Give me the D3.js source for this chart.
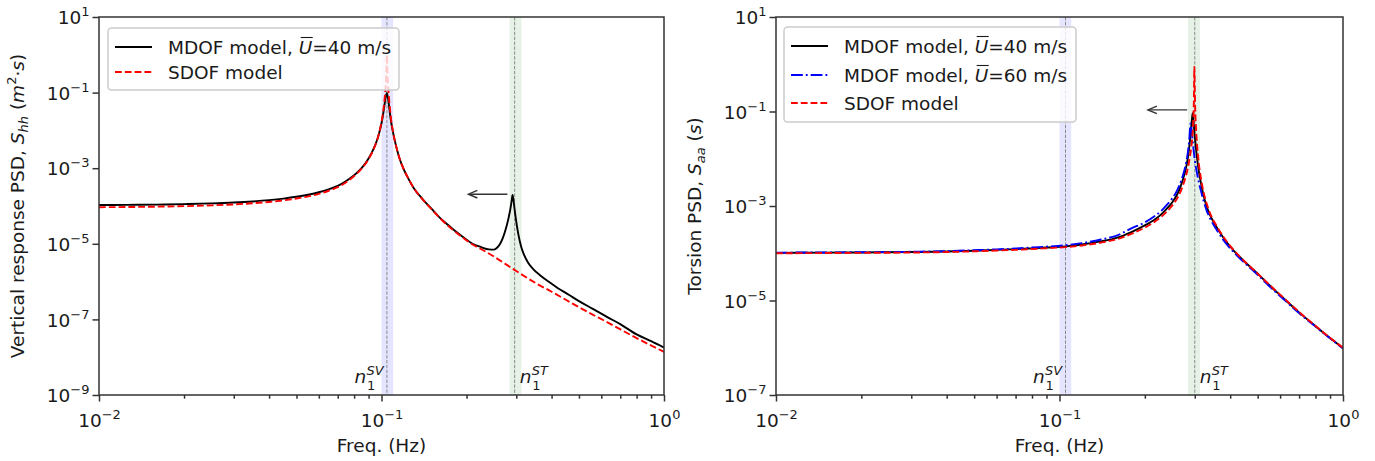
<!DOCTYPE html>
<html><head><meta charset="utf-8">
<script src="https://cdn.jsdelivr.net/npm/d3@7"></script>
<style>
body{margin:0;background:#fff}
svg{display:block}
text{font-family:"DejaVu Sans",sans-serif;fill:#1a1a1a}
</style>
</head><body>
<svg id="c" width="1375" height="461"></svg>
<script>
// ---------------- DATA ----------------
// Left panel: vertical response PSD
const vFreqMDOF40 = [0.01,0.0125,0.016,0.02,0.025,0.03,0.035,0.04,0.045,0.05,0.055,0.06,0.065,0.07,0.075,0.08,0.085,0.09,0.094,0.097,0.099,0.101,0.1025,0.1035,0.1045,0.1055,0.1065,0.108,0.11,0.113,0.116,0.12,0.125,0.13,0.14,0.15,0.16,0.17,0.18,0.195,0.21,0.225,0.24,0.25,0.257,0.263,0.268,0.273,0.278,0.282,0.286,0.289,0.291,0.293,0.296,0.3,0.305,0.312,0.32,0.33,0.345,0.365,0.39,0.42,0.46,0.5,0.56,0.63,0.7,0.8,0.9,1.0];
const vPsdMDOF40  = [1.06e-4,1.07e-4,1.09e-4,1.12e-4,1.17e-4,1.235e-4,1.32e-4,1.43e-4,1.57e-4,1.75e-4,1.99e-4,2.31e-4,2.77e-4,3.42e-4,4.6e-4,6.5e-4,1.0e-3,1.8e-3,3.4e-3,6.3e-3,0.011,0.023,0.048,0.078,0.097,0.070,0.040,0.018,8.5e-3,3.5e-3,1.75e-3,9.2e-4,5.0e-4,3.0e-4,1.5e-4,8.6e-5,5.1e-5,3.4e-5,2.35e-5,1.5e-5,1.0e-5,8.2e-6,7.1e-6,7.0e-6,8.0e-6,1.0e-5,1.35e-5,2.0e-5,3.2e-5,5.0e-5,8.5e-5,1.4e-4,1.95e-4,1.5e-4,8.0e-5,3.8e-5,1.8e-5,8.5e-6,5.0e-6,3.2e-6,2.1e-6,1.45e-6,1.0e-6,6.8e-7,4.5e-7,3.05e-7,1.9e-7,1.15e-7,7.5e-8,4.0e-8,2.65e-8,1.8e-8];
const vFreqSDOF = [0.01,0.0125,0.016,0.02,0.025,0.03,0.035,0.04,0.045,0.05,0.055,0.06,0.065,0.07,0.075,0.08,0.085,0.09,0.094,0.097,0.099,0.101,0.1025,0.1035,0.104,0.1045,0.105,0.1055,0.1065,0.108,0.11,0.113,0.116,0.12,0.125,0.13,0.14,0.15,0.16,0.17,0.18,0.195,0.21,0.225,0.25,0.291,0.35,0.4,0.5,0.65,0.8,1.0];
const vPsdSDOF  = [9.3e-5,9.4e-5,9.6e-5,9.9e-5,1.04e-4,1.1e-4,1.18e-4,1.28e-4,1.41e-4,1.58e-4,1.8e-4,2.1e-4,2.53e-4,3.15e-4,4.25e-4,6.2e-4,9.7e-4,1.75e-3,3.3e-3,6.3e-3,0.0115,0.026,0.065,0.16,0.35,1.0,0.35,0.16,0.06,0.021,8.6e-3,3.5e-3,1.75e-3,9.2e-4,5.0e-4,3.0e-4,1.48e-4,8.4e-5,5.0e-5,3.25e-5,2.25e-5,1.42e-5,9.6e-6,7.3e-6,4.6e-6,2.2e-6,9.3e-7,5.4e-7,2.1e-7,7.4e-8,3.2e-8,1.38e-8];

// Right panel: torsion PSD
const tFreqMDOF40 = [0.01,0.015,0.02,0.03,0.04,0.05,0.06,0.07,0.08,0.09,0.105,0.12,0.14,0.16,0.18,0.2,0.215,0.23,0.24,0.25,0.26,0.268,0.275,0.28,0.284,0.287,0.29,0.293,0.295,0.297,0.3,0.305,0.31,0.316,0.322,0.33,0.34,0.36,0.38,0.41,0.45,0.5,0.55,0.6,0.7,0.8,0.9,1.0];
const tPsdMDOF40  = [1.02e-4,1.03e-4,1.04e-4,1.06e-4,1.09e-4,1.13e-4,1.18e-4,1.22e-4,1.27e-4,1.32e-4,1.4e-4,1.53e-4,1.78e-4,2.15e-4,2.85e-4,3.9e-4,5.0e-4,6.9e-4,9.0e-4,1.2e-3,1.75e-3,2.7e-3,4.4e-3,6.8e-3,0.011,0.018,0.033,0.065,0.092,0.06,0.03,0.0115,5.5e-3,2.9e-3,1.7e-3,1.0e-3,6.3e-4,3.4e-4,2.05e-4,1.17e-4,6.6e-5,3.7e-5,2.1e-5,1.3e-5,5.6e-6,2.85e-6,1.6e-6,9.8e-7];
const tFreqMDOF60 = [0.01,0.015,0.02,0.03,0.04,0.05,0.06,0.07,0.08,0.09,0.105,0.12,0.14,0.16,0.18,0.2,0.215,0.23,0.24,0.25,0.26,0.268,0.275,0.28,0.284,0.287,0.29,0.293,0.297,0.3,0.305,0.31,0.316,0.322,0.33,0.34,0.36,0.38,0.41,0.45,0.5,0.55,0.6,0.7,0.8,0.9,1.0];
const tPsdMDOF60  = [1.03e-4,1.04e-4,1.05e-4,1.075e-4,1.11e-4,1.16e-4,1.21e-4,1.26e-4,1.32e-4,1.38e-4,1.48e-4,1.64e-4,1.95e-4,2.4e-4,3.4e-4,4.5e-4,5.9e-4,8.2e-4,1.08e-3,1.45e-3,2.15e-3,3.3e-3,5.4e-3,8.5e-3,0.0145,0.026,0.056,0.035,0.016,9.5e-3,5.2e-3,3.2e-3,2.0e-3,1.3e-3,8.2e-4,5.4e-4,3.0e-4,1.85e-4,1.08e-4,6.2e-5,3.5e-5,2.0e-5,1.25e-5,5.4e-6,2.8e-6,1.58e-6,9.6e-7];
const tFreqSDOF = [0.01,0.015,0.02,0.03,0.04,0.05,0.06,0.07,0.08,0.09,0.105,0.12,0.14,0.16,0.18,0.2,0.215,0.23,0.24,0.25,0.26,0.268,0.275,0.28,0.284,0.288,0.292,0.295,0.297,0.298,0.299,0.3,0.301,0.303,0.306,0.31,0.316,0.322,0.33,0.34,0.36,0.38,0.41,0.45,0.5,0.55,0.6,0.7,0.8,0.9,1.0];
const tPsdSDOF  = [1.0e-4,1.01e-4,1.02e-4,1.035e-4,1.06e-4,1.1e-4,1.14e-4,1.18e-4,1.23e-4,1.28e-4,1.35e-4,1.46e-4,1.68e-4,2.0e-4,2.6e-4,3.5e-4,4.5e-4,6.1e-4,7.8e-4,1.03e-3,1.45e-3,2.1e-3,3.2e-3,4.6e-3,6.6e-3,0.0105,0.019,0.038,0.09,0.2,0.89,0.3,0.12,0.045,0.018,8.0e-3,3.6e-3,2.0e-3,1.15e-3,6.9e-4,3.6e-4,2.15e-4,1.2e-4,6.7e-5,3.7e-5,2.15e-5,1.33e-5,5.7e-6,2.9e-6,1.62e-6,1.0e-6];

// Natural frequencies / bands
const vNatFreq = [0.1045, 0.296];
const tNatFreq = [0.105, 0.300];
const svBand = [0.100, 0.110];
const stBand = [0.284, 0.313];
const natLabels = ["SV", "ST"];

// Ticks
const xMajorTicks = [0.01, 0.1, 1];
const xMinorTicks = [0.02,0.03,0.04,0.05,0.06,0.07,0.08,0.09,0.2,0.3,0.4,0.5,0.6,0.7,0.8,0.9];
const vYTicks = [1e1, 1e-1, 1e-3, 1e-5, 1e-7, 1e-9];
const tYTicks = [1e1, 1e-1, 1e-3, 1e-5, 1e-7];

// Legend labels (prefix, overlined symbol, suffix)
const vLegend = [["MDOF model, ", "U", "=40 m/s"], ["SDOF model", "", ""]];
const tLegend = [["MDOF model, ", "U", "=40 m/s"], ["MDOF model, ", "U", "=60 m/s"], ["SDOF model", "", ""]];

// Annotation arrows: [fromFreq, toFreq, value]
const vArrow = [0.279, 0.203, 2.05e-4];
const tArrow = [0.282, 0.205, 0.108];

// ---------------- DRAWING ----------------
const svg = d3.select("#c");
const TOP = 17, BOT = 395;
const FS = 18.5, FSS = 13;
const zip = (a, b) => a.map((v, i) => [v, b[i]]);

const styles = {
  black: {stroke: "#000000", dash: null},
  blue:  {stroke: "#0000ff", dash: "11.8,3,1.85,3"},
  red:   {stroke: "#ff0000", dash: "6.8,3"}
};
const LW = 1.9;

function supText(sel, base, exp) {
  sel.append("tspan").text(base);
  sel.append("tspan").attr("dy", -8).attr("font-size", FSS).text(exp);
}

function drawPanel(p) {
  const x = d3.scaleLog().domain([0.01, 1]).range(p.xr);
  const y = d3.scaleLog().domain(p.yDomain).range([BOT, TOP]);
  const g = svg.append("g");
  const clipId = "clip" + p.id;
  svg.append("clipPath").attr("id", clipId).append("rect")
    .attr("x", p.xr[0]).attr("y", TOP).attr("width", p.xr[1] - p.xr[0]).attr("height", BOT - TOP);

  // bands
  [[svBand, "rgba(0,0,255,0.1)"], [stBand, "rgba(0,128,0,0.1)"]].forEach(([b, c]) => {
    g.append("rect").attr("x", x(b[0])).attr("width", x(b[1]) - x(b[0]))
      .attr("y", TOP).attr("height", BOT - TOP).attr("fill", c);
  });
  // vertical dashed lines
  p.nat.forEach(f => {
    g.append("line").attr("x1", x(f)).attr("x2", x(f)).attr("y1", TOP).attr("y2", BOT)
      .attr("stroke", "#808080").attr("stroke-width", 0.9).attr("stroke-dasharray", "3.4,1.5");
  });

  // curves
  const line = d3.line().x(d => x(d[0])).y(d => y(d[1])).curve(d3.curveMonotoneX);
  const cg = g.append("g").attr("clip-path", `url(#${clipId})`);
  p.series.forEach(s => {
    const st = styles[s.style];
    cg.append("path").datum(zip(s.f, s.v)).attr("d", line)
      .attr("fill", "none").attr("stroke", st.stroke).attr("stroke-width", LW)
      .attr("stroke-dasharray", st.dash).attr("stroke-linejoin", "round");
  });

  // n labels
  p.nat.forEach((f, i) => {
    const x0 = i === 0 ? x(f) - 32.5 : x(f) + 5;
    g.append("text").attr("x", x0).attr("y", 383).attr("font-size", FS).attr("font-style", "italic").text("n");
    g.append("text").attr("x", x0 + 12).attr("y", 374.5).attr("font-size", FSS).attr("font-style", "italic").text(natLabels[i]);
    g.append("text").attr("x", x0 + 12.5).attr("y", 390).attr("font-size", FSS).text("1");
  });

  // arrow
  const a = p.arrow;
  const ax1 = x(a[0]), ax2 = x(a[1]), ay = y(a[2]);
  g.append("line").attr("x1", ax1).attr("x2", ax2 + 1).attr("y1", ay).attr("y2", ay)
    .attr("stroke", "#333").attr("stroke-width", 1.4);
  g.append("path").attr("d", `M${ax2 + 9},${ay - 3.8}L${ax2},${ay}L${ax2 + 9},${ay + 3.8}`)
    .attr("fill", "none").attr("stroke", "#333").attr("stroke-width", 1.4);

  // axes
  const xAxis = d3.axisBottom(x).tickValues(xMajorTicks).tickSize(6.5).tickSizeOuter(0).tickFormat("");
  const xa = g.append("g").attr("transform", `translate(0,${BOT})`).call(xAxis);
  const xMinor = d3.axisBottom(x).tickValues(xMinorTicks).tickSize(3.7).tickSizeOuter(0).tickFormat("");
  const xm = g.append("g").attr("transform", `translate(0,${BOT})`).call(xMinor);
  const yAxis = d3.axisLeft(y).tickValues(p.yTicks).tickSize(6.5).tickSizeOuter(0).tickFormat("");
  const ya = g.append("g").attr("transform", `translate(${p.xr[0]},0)`).call(yAxis);
  [xa, xm, ya].forEach(s => {
    s.select(".domain").remove();
    s.selectAll(".tick line").attr("stroke", "#333").attr("stroke-width", 1.5);
    s.selectAll(".tick text").remove();
  });
  xa.selectAll(".tick").each(function (d) {
    const t = d3.select(this).append("text").attr("x", 0).attr("y", 32).attr("text-anchor", "middle")
      .attr("font-size", FS).attr("fill", "#1a1a1a");
    const e = Math.round(Math.log10(d));
    supText(t, "10", e < 0 ? "\u2212" + (-e) : String(e));
  });
  ya.selectAll(".tick").each(function (d) {
    const t = d3.select(this).append("text").attr("x", -9.5).attr("y", 6.7).attr("text-anchor", "end")
      .attr("font-size", FS).attr("fill", "#1a1a1a");
    const e = Math.round(Math.log10(d));
    supText(t, "10", e < 0 ? "\u2212" + (-e) : String(e));
  });

  // spines
  g.append("rect").attr("x", p.xr[0]).attr("y", TOP).attr("width", p.xr[1] - p.xr[0]).attr("height", BOT - TOP)
    .attr("fill", "none").attr("stroke", "#333").attr("stroke-width", 1.5);

  // axis labels
  g.append("text").attr("x", (p.xr[0] + p.xr[1]) / 2).attr("y", 452).attr("text-anchor", "middle")
    .attr("font-size", FS).text("Freq. (Hz)");
  const yl = g.append("text").attr("transform", `translate(${p.ylx},206) rotate(-90)`)
    .attr("text-anchor", "middle").attr("font-size", FS);
  p.ylabel(yl);

  // legend
  const L = p.legend;
  g.append("rect").attr("x", L.x).attr("y", L.y).attr("width", L.w).attr("height", L.h).attr("rx", 3.5)
    .attr("fill", "rgba(255,255,255,0.8)").attr("stroke", "#cccccc").attr("stroke-width", 1.5);
  L.items.forEach((it, i) => {
    const ry = L.rows[i];
    const st = styles[it.style];
    g.append("line").attr("x1", L.x + 7).attr("x2", L.x + 44).attr("y1", ry).attr("y2", ry)
      .attr("stroke", st.stroke).attr("stroke-width", LW).attr("stroke-dasharray", st.dash);
    const t = g.append("text").attr("x", L.x + 60).attr("y", ry + 6.7).attr("font-size", FS);
    t.append("tspan").text(it.label[0]);
    if (it.label[1]) {
      t.append("tspan").attr("font-style", "italic").text(it.label[1]);
      t.append("tspan").text(it.label[2]);
      const idx = it.label[0].length;
      const ext = t.node().getExtentOfChar(idx);
      g.append("line").attr("x1", ext.x + 2).attr("x2", ext.x + ext.width + 0.5)
        .attr("y1", ry - 9.5).attr("y2", ry - 9.5).attr("stroke", "#1a1a1a").attr("stroke-width", 1.1);
    }
  });
}

drawPanel({
  id: "v", xr: [99, 664], yDomain: [1e-9, 10], yTicks: vYTicks, nat: vNatFreq, arrow: vArrow, ylx: 24,
  series: [
    {f: vFreqMDOF40, v: vPsdMDOF40, style: "black"},
    {f: vFreqSDOF, v: vPsdSDOF, style: "red"}
  ],
  ylabel: t => {
    t.append("tspan").text("Vertical response PSD, ");
    t.append("tspan").attr("font-style", "italic").text("S");
    t.append("tspan").attr("font-style", "italic").attr("font-size", FSS).attr("dy", 4).text("hh");
    t.append("tspan").attr("dy", -4).text(" (");
    t.append("tspan").attr("font-style", "italic").text("m");
    t.append("tspan").attr("font-size", FSS).attr("dy", -8).text("2");
    t.append("tspan").attr("dy", 8).text("\u00b7");
    t.append("tspan").attr("font-style", "italic").text("s");
    t.append("tspan").text(")");
  },
  legend: {x: 108, y: 28, w: 291, h: 62, rows: [47, 72],
    items: [{style: "black", label: vLegend[0]}, {style: "red", label: vLegend[1]}]}
});

drawPanel({
  id: "t", xr: [776, 1343], yDomain: [1e-7, 10], yTicks: tYTicks, nat: tNatFreq, arrow: tArrow, ylx: 701,
  series: [
    {f: tFreqMDOF40, v: tPsdMDOF40, style: "black"},
    {f: tFreqMDOF60, v: tPsdMDOF60, style: "blue"},
    {f: tFreqSDOF, v: tPsdSDOF, style: "red"}
  ],
  ylabel: t => {
    t.append("tspan").text("Torsion PSD, ");
    t.append("tspan").attr("font-style", "italic").text("S");
    t.append("tspan").attr("font-style", "italic").attr("font-size", FSS).attr("dy", 4).text("aa");
    t.append("tspan").attr("dy", -4).text(" (");
    t.append("tspan").attr("font-style", "italic").text("s");
    t.append("tspan").text(")");
  },
  legend: {x: 784, y: 27, w: 292, h: 95, rows: [46, 75, 103],
    items: [{style: "black", label: tLegend[0]}, {style: "blue", label: tLegend[1]}, {style: "red", label: tLegend[2]}]}
});
</script>
</body></html>
